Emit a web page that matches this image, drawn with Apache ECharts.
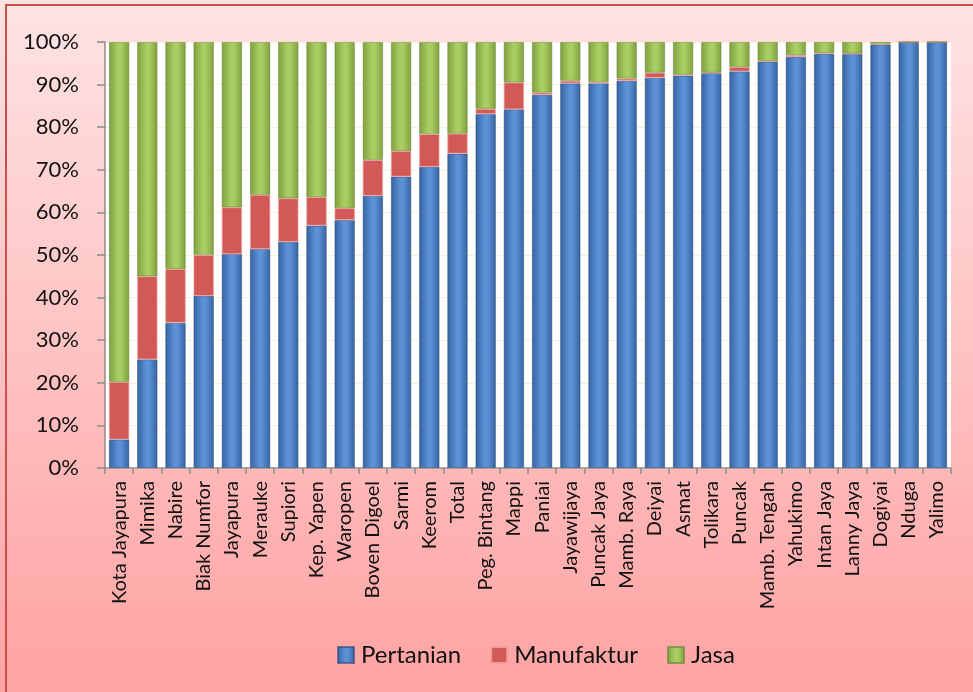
<!DOCTYPE html>
<html>
<head>
<meta charset="utf-8">
<script src="https://cdn.jsdelivr.net/npm/echarts@6/dist/echarts.min.js"></script>
<style>
  html, body { margin: 0; padding: 0; }
  #chart { width: 973px; height: 692px; }
</style>
</head>
<body>
<div id="chart"></div>
<script>
// Regions (kabupaten/kota) ordered by share of agriculture
const categories = [
  'Kota Jayapura', 'Mimika', 'Nabire', 'Biak Numfor', 'Jayapura', 'Merauke',
  'Supiori', 'Kep. Yapen', 'Waropen', 'Boven Digoel', 'Sarmi', 'Keerom',
  'Total', 'Peg. Bintang', 'Mappi', 'Paniai', 'Jayawijaya', 'Puncak Jaya',
  'Mamb. Raya', 'Deiyai', 'Asmat', 'Tolikara', 'Puncak', 'Mamb. Tengah',
  'Yahukimo', 'Intan Jaya', 'Lanny Jaya', 'Dogiyai', 'Nduga', 'Yalimo'
];

// Sector shares (%)
const pertanian = [
  6.7, 25.5, 34.1, 40.4, 50.2, 51.4, 53.1, 56.9, 58.2, 63.9, 68.4, 70.7,
  73.8, 83.1, 84.2, 87.6, 90.3, 90.3, 90.9, 91.6, 92.1, 92.7, 93.1, 95.4,
  96.5, 97.2, 97.2, 99.4, 100, 100
];
const manufaktur = [
  13.5, 19.5, 12.6, 9.6, 11.0, 12.7, 10.2, 6.7, 2.8, 8.4, 6.0, 7.7,
  4.7, 1.2, 6.3, 0.5, 0.6, 0.3, 0.5, 1.2, 0.2, 0.1, 1.0, 0.1,
  0.4, 0.2, 0.1, 0.1, 0, 0
];
const jasa = [
  79.8, 55.0, 53.3, 50.0, 38.8, 35.9, 36.7, 36.4, 39.0, 27.7, 25.6, 21.6,
  21.5, 15.7, 9.5, 11.9, 9.1, 9.4, 8.6, 7.2, 7.7, 7.2, 5.9, 4.5,
  3.1, 2.6, 2.7, 0.5, 0, 0
];

const yTicks = { min: 0, max: 100, interval: 10 };

function hGrad(edge, mid) {
  return new echarts.graphic.LinearGradient(0, 0, 1, 0, [
    { offset: 0, color: edge },
    { offset: 0.45, color: mid },
    { offset: 0.6, color: mid },
    { offset: 1, color: edge }
  ]);
}

const FONT = 'Lato, "Open Sans", sans-serif';
const chart = echarts.init(document.getElementById('chart'), null, { renderer: 'canvas' });

chart.setOption({
  backgroundColor: new echarts.graphic.LinearGradient(0, 0, 0, 1, [
    { offset: 0, color: '#fee3e3' },
    { offset: 1, color: '#ffa3a3' }
  ]),
  animation: false,
  graphic: [{
    type: 'rect',
    shape: { x: 6, y: 5, width: 1000, height: 720 },
    style: { fill: 'none', stroke: '#c9504e', lineWidth: 2 },
    silent: true,
    z: 100
  }],
  grid: {
    left: 105, right: 22, top: 42, bottom: 224,
    show: true, backgroundColor: '#ffffff', borderWidth: 0
  },
  legend: {
    left: 332, top: 638,
    icon: 'rect',
    itemWidth: 16, itemHeight: 16, itemGap: 29,
    textStyle: { fontFamily: FONT, fontSize: 24, color: '#111', padding: [0, 0, 0, 2] },
    data: ['Pertanian', 'Manufaktur', 'Jasa']
  },
  xAxis: {
    type: 'category',
    data: categories,
    boundaryGap: true,
    axisLine: { lineStyle: { color: '#8c8c8c', width: 1.5 } },
    axisTick: { show: true, length: 6, alignWithLabel: false, lineStyle: { color: '#8c8c8c', width: 1.5 } },
    axisLabel: {
      rotate: 90, interval: 0, margin: 13,
      fontFamily: FONT, fontSize: 20, color: '#111'
    }
  },
  yAxis: {
    type: 'value',
    min: yTicks.min, max: yTicks.max, interval: yTicks.interval,
    axisLine: { show: true, lineStyle: { color: '#8c8c8c', width: 1.5 } },
    axisTick: { show: true, length: 8, lineStyle: { color: '#8c8c8c', width: 1.5 } },
    axisLabel: {
      formatter: '{value}%', margin: 26,
      fontFamily: FONT, fontSize: 22, color: '#111'
    },
    splitLine: { show: true, lineStyle: { color: '#fbf1d6', width: 1 } }
  },
  series: [
    {
      name: 'Pertanian', type: 'bar', stack: 'all', data: pertanian,
      barCategoryGap: '28%',
      itemStyle: {
        color: hGrad('#3563a0', '#5c91d6'),
        borderColor: 'rgba(40,70,120,0.6)', borderWidth: 0.8
      }
    },
    {
      name: 'Manufaktur', type: 'bar', stack: 'all', data: manufaktur,
      itemStyle: {
        color: '#d15a57',
        borderColor: 'rgba(240,160,160,0.9)', borderWidth: 0.8
      }
    },
    {
      name: 'Jasa', type: 'bar', stack: 'all', data: jasa,
      itemStyle: {
        color: hGrad('#7f9f3f', '#a9cd62'),
        borderColor: 'rgba(100,130,50,0.6)', borderWidth: 0.8
      }
    }
  ]
});
</script>
</body>
</html>
